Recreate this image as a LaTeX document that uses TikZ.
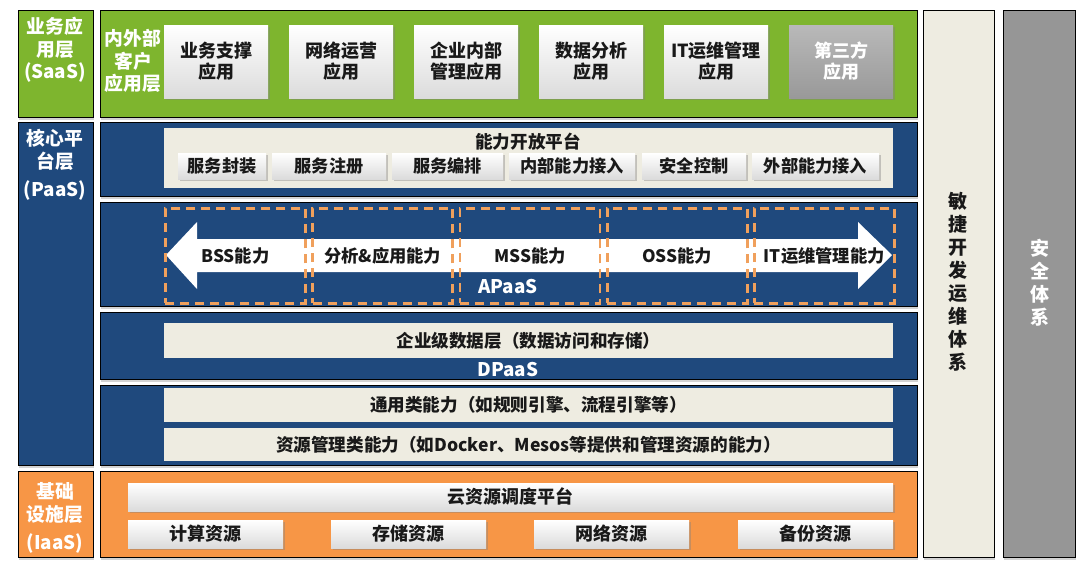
\documentclass[tikz,border=0pt]{standalone}
\usepackage{fontspec}
\setmainfont{Noto Sans CJK SC}
\definecolor{saasgreen}{RGB}{126,181,46}
\definecolor{paasblue}{RGB}{31,73,125}
\definecolor{iaasorange}{RGB}{247,150,70}
\definecolor{panelbeige}{RGB}{238,236,225}
\definecolor{secgray}{RGB}{150,150,150}
\definecolor{dashorange}{RGB}{240,160,92}
\definecolor{inkdark}{RGB}{25,25,25}
\usetikzlibrary{shadows,positioning}

\begin{document}
\begin{tikzpicture}[x=1pt, y=-1pt,
      layer/.style={draw=black, line width=0.9pt, anchor=north west, inner sep=0pt,
                    outer sep=0pt, minimum width=817pt,
                    drop shadow={shadow xshift=1pt, shadow yshift=-2.5pt, opacity=0.35}},
      lbl/.style={layer, minimum width=75pt},
      lbltxt/.style={align=center, text=white, font=\bfseries\fontsize{18.8}{22.5}\selectfont},
      panel/.style={fill=panelbeige, anchor=north west, inner sep=0pt, outer sep=0pt,
                    minimum width=729pt, text=inkdark,
                    font=\bfseries\fontsize{17.6}{20}\selectfont},
      appbox/.style={anchor=north west, inner sep=0pt, outer sep=0pt, align=center,
                     top color=white, bottom color=gray!28, text=inkdark,
                     font=\bfseries\fontsize{18}{21}\selectfont,
                     drop shadow={shadow xshift=1.5pt, shadow yshift=-2pt, opacity=0.4}},
      tabbox/.style={appbox, minimum height=26pt, font=\bfseries\fontsize{17.2}{20}\selectfont},
      resbox/.style={appbox, minimum width=155pt, minimum height=28pt},
      capbox/.style={draw=dashorange, line width=2.8pt, dash pattern=on 9pt off 6pt,
                     anchor=north west, inner sep=0pt, minimum width=140pt,
                     minimum height=95pt, text=inkdark,
                     font=\bfseries\fontsize{17.3}{20}\selectfont},
      pill/.style={anchor=north west, draw=black, line width=0.9pt, inner sep=0pt,
                   minimum width=71pt, minimum height=547pt,
                   drop shadow={shadow xshift=1pt, shadow yshift=-2.5pt, opacity=0.35}}
    ]
    \useasboundingbox (0,0) rectangle (1080,570);

    % left layer labels
    \node[lbl, fill=saasgreen, minimum height=107pt] (saaslbl) at (18,10) {};
    \node[lbl, fill=paasblue, minimum height=343pt] (paaslbl) at (18,122) {};
    \node[lbl, fill=iaasorange, minimum height=86pt] (iaaslbl) at (18,471) {};
    \node[lbltxt] (saastxt) at (55,50) {业务应\\用层\\(SaaS)};
    \node[lbltxt] (paastxt) at (55,165) {核心平\\台层\\[6pt](PaaS)};
    \node[lbltxt] (iaastxt) at (55,518) {基础\\设施层\\[6pt](IaaS)};

    % rows
    \node[layer, fill=saasgreen, minimum height=107pt] (saasrow) at (100,10) {};
    \node[layer, fill=paasblue, minimum height=74pt] (openrow) at (100,122) {};
    \node[layer, fill=paasblue, minimum height=104pt] (apaasrow) at (100,202) {};
    \node[layer, fill=paasblue, minimum height=67pt] (dpaasrow) at (100,312) {};
    \node[layer, fill=paasblue, minimum height=80pt] (genrow) at (100,385) {};
    \node[layer, fill=iaasorange, minimum height=86pt] (iaasrow) at (100,471) {};

    % SaaS
    \node[lbltxt] (custtxt) at (133,61) {内外部\\客户\\应用层};
    \node[appbox, minimum width=104pt, minimum height=73pt] (app1) at (164,25) {业务支撑\\应用};
    \node[appbox, minimum width=104pt, minimum height=73pt] (app2) at (289,25) {网络运营\\应用};
    \node[appbox, minimum width=104pt, minimum height=73pt] (app3) at (414,25) {企业内部\\管理应用};
    \node[appbox, minimum width=104pt, minimum height=73pt] (app4) at (539,25) {数据分析\\应用};
    \node[appbox, minimum width=104pt, minimum height=73pt] (app5) at (664,25) {IT运维管理\\应用};
    \node[appbox, minimum width=104pt, minimum height=73pt, top color=gray!55,
          bottom color=gray!80, text=white] (app6) at (789,25) {第三方\\应用};

    % capability open platform
    \node[panel, minimum height=60pt] (openpanel) at (164,128) {};
    \node[text=inkdark, font=\bfseries\fontsize{17.6}{20}\selectfont] (opentitle) at (528,142) {能力开放平台};
    \node[tabbox, minimum width=88pt] (tab1) at (178,153) {服务封装};
    \node[tabbox, minimum width=114pt] (tab2) at (272,153) {服务注册};
    \node[tabbox, minimum width=111pt] (tab3) at (392,153) {服务编排};
    \node[tabbox, minimum width=126pt] (tab4) at (509,153) {内部能力接入};
    \node[tabbox, minimum width=104pt] (tab5) at (642,153) {安全控制};
    \node[tabbox, minimum width=127pt] (tab6) at (752,153) {外部能力接入};

    % APaaS
    \fill[white] (166,255) -- (197,222) -- (197,239) -- (858,239) -- (858,222)
      -- (892,255) -- (858,289) -- (858,272) -- (197,272) -- (197,289) -- cycle;
    \node[capbox] (bss) at (164,207) {BSS能力};
    \node[capbox] (ana) at (311.25,207) {分析\&应用能力};
    \node[capbox] (mss) at (458.5,207) {MSS能力};
    \node[capbox] (oss) at (605.75,207) {OSS能力};
    \node[capbox] (itops) at (753,207) {IT运维管理能力};
    \node[text=white, font=\bfseries\fontsize{18.8}{20}\selectfont] (apaastxt) at (508,287) {APaaS};

    % DPaaS
    \node[panel, minimum height=35pt] (datapanel) at (164,323) {企业级数据层（数据访问和存储）};
    \node[text=white, font=\bfseries\fontsize{18.8}{20}\selectfont] (dpaastxt) at (508,370) {DPaaS};

    % general capabilities
    \node[panel, minimum height=34pt] (genpanel) at (164,388) {通用类能力（如规则引擎、流程引擎等）};
    \node[panel, minimum height=33pt] (respanel) at (164,428) {资源管理类能力（如Docker、Mesos等提供和管理资源的能力）};

    % IaaS
    \node[appbox, minimum width=765pt, minimum height=28pt] (sched) at (128,483) {云资源调度平台};
    \node[resbox] (res1) at (128,520) {计算资源};
    \node[resbox] (res2) at (331,520) {存储资源};
    \node[resbox] (res3) at (534,520) {网络资源};
    \node[resbox] (res4) at (738,520) {备份资源};

    % side columns
    \node[pill, fill=panelbeige] (agile) at (923,10) {};
    \node[pill, fill=secgray, minimum width=72pt] (secur) at (1003,10) {};
    \node[align=center, text=inkdark, font=\bfseries\fontsize{19}{23}\selectfont] (agiletxt)
      at (958,282) {敏\\捷\\开\\发\\运\\维\\体\\系};
    \node[align=center, text=white, font=\bfseries\fontsize{19}{23}\selectfont] (securtxt)
      at (1040,283) {安\\全\\体\\系};
  \end{tikzpicture}
\end{document}
